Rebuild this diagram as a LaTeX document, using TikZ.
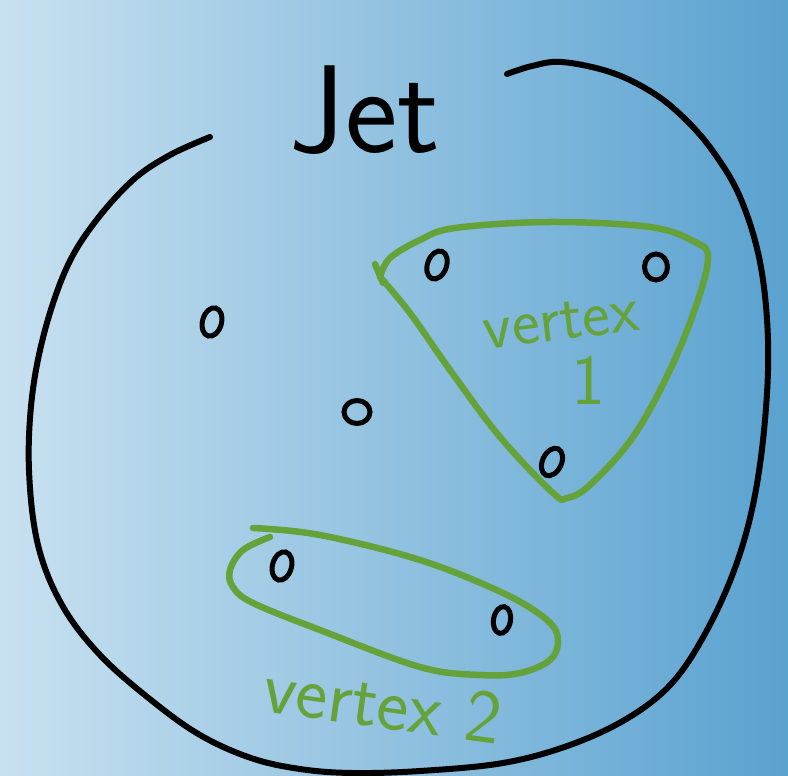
\documentclass[tikz,border=0pt]{standalone}
\usetikzlibrary{shapes.geometric}
\definecolor{bgL}{HTML}{C8E1F0}
\definecolor{bgM}{HTML}{A2CCE5}
\definecolor{bgR}{HTML}{5AA2D0}
\definecolor{vgreen}{HTML}{66A23A}
\begin{document}
\begin{tikzpicture}[x=1pt,y=-1pt,
  ink/.style={draw=black,line width=6pt,line cap=round,line join=round},
  grn/.style={draw=vgreen,line width=6.5pt,line cap=round,line join=round},
  dot/.style={draw=black,ellipse,line width=5pt,minimum width=19pt,minimum height=29pt,inner sep=0pt},
  lbl/.style={text=vgreen,font=\sffamily\fontsize{66}{66}\selectfont,inner sep=0pt},
  title/.style={text=black,font=\sffamily\fontsize{125}{125}\selectfont,inner sep=0pt}]
\shade[left color=bgL,middle color=bgM,right color=bgR] (0,0) rectangle (788,776);
\useasboundingbox (0,0) rectangle (788,776);

% jet boundary
\draw[ink] plot[smooth,tension=0.6] coordinates {
 (210,137) (170,155) (133,180) (95,222) (67,267) (45,330) (32,397) (29,470)
 (38,545) (62,605) (100,655) (151,700) (200,735) (251,758) (300,769) (352,773)
 (420,771) (503,763) (570,745) (628,718) (672,683) (706,632) (735,568) (754,500)
 (765,420) (768,340) (760,262) (740,197) (712,150) (682,116) (650,91) (610,72)
 (562,62) (532,66) (507,74)};

\node[title,anchor=base] (jet) at (365,152) {Jet};

% particles
\node[dot,rotate=-15] (p1) at (212,322) {};
\node[dot,minimum width=26pt,minimum height=23pt] (p2) at (357,412) {};
\node[dot,rotate=-20] (p3) at (437,265) {};
\node[dot,minimum width=23pt,minimum height=26pt] (p4) at (656,267) {};
\node[dot,rotate=-25] (p5) at (552,462) {};
\node[dot,rotate=-15] (p6) at (282,566) {};
\node[dot,rotate=-10,minimum width=17pt,minimum height=27pt] (p7) at (502,620) {};

% vertex 1 loop
\draw[grn] plot[smooth,tension=0.6] coordinates {
 (380,277) (390,258) (420,240) (455,228) (550,222) (650,227) (695,242) (708,257)
 (697,303) (670,370) (633,437) (590,485) (567,498) (553,493) (500,437) (450,370)
 (410,313) (380,277)};
\draw[grn] (375,264) -- (383,283);
\node[lbl,rotate=7] (v1) at (561,322) {vertex};
\node[lbl,font=\sffamily\fontsize{72}{72}\selectfont] (v1n) at (588,380) {1};

% vertex 2 loop
\draw[grn] plot[smooth,tension=0.6] coordinates {
 (253,528) (320,535) (420,560) (503,593) (547,620) (558,640) (550,660) (520,673)
 (480,675) (420,667) (320,630) (253,603) (233,587) (230,570) (243,550) (270,537)};
\node[lbl,rotate=-8,font=\sffamily\fontsize{76}{76}\selectfont] (v2) at (383,703) {vertex 2};
\end{tikzpicture}
\end{document}
